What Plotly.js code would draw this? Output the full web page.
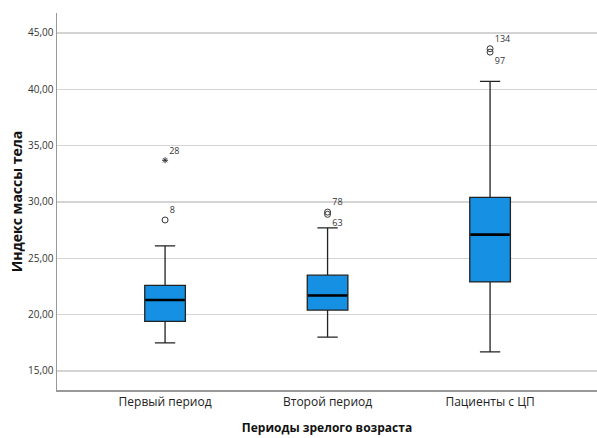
<!DOCTYPE html>
<html>
<head>
<meta charset="utf-8">
<script src="https://cdn.plot.ly/plotly-3.0.1.min.js"></script>
<style>html,body{margin:0;padding:0;background:#fff;}#chart{width:597px;height:438px;}</style>
</head>
<body>
<div id="chart"></div>
<script>
var categories = ["Первый период", "Второй период", "Пациенты с ЦП"];
var lowerWhisker = [17.5, 18.0, 16.7];
var q1 = [19.4, 20.4, 22.9];
var median = [21.3, 21.7, 27.1];
var q3 = [22.6, 23.5, 30.4];
var upperWhisker = [26.1, 27.7, 40.7];

var outlierCat = ["Первый период", "Второй период", "Второй период", "Пациенты с ЦП", "Пациенты с ЦП"];
var outlierVal = [28.4, 29.1, 28.9, 43.6, 43.3];
var outlierLabel = ["8", "78", "63", "134", "97"];
var outlierLabelPos = ["top right", "top right", "bottom right", "top right", "bottom right"];

var extremeCat = ["Первый период"];
var extremeVal = [33.7];
var extremeLabel = ["28"];

var FONT = "Open Sans, Liberation Sans, Arial, sans-serif";

var traces = [
  {
    type: "box",
    x: categories,
    q1: q1, median: median, q3: q3,
    lowerfence: lowerWhisker, upperfence: upperWhisker,
    boxpoints: false,
    width: 0.25,
    whiskerwidth: 0.5,
    fillcolor: "#1590e3",
    line: {color: "#222222", width: 1.3},
    hoverinfo: "skip",
    showlegend: false
  },
  {
    type: "scatter",
    mode: "markers",
    x: categories,
    y: median,
    marker: {symbol: "line-ew", size: 28, line: {color: "#000000", width: 2.6}},
    hoverinfo: "skip",
    showlegend: false
  },
  {
    type: "scatter",
    mode: "markers+text",
    x: outlierCat,
    y: outlierVal,
    text: outlierLabel,
    textposition: outlierLabelPos,
    textfont: {family: FONT, size: 9, color: "#333333"},
    marker: {symbol: "circle-open", size: 6, color: "#333333", line: {width: 1}},
    hoverinfo: "skip",
    showlegend: false
  },
  {
    type: "scatter",
    mode: "markers+text",
    x: extremeCat,
    y: extremeVal,
    text: extremeLabel,
    textposition: "top right",
    textfont: {family: FONT, size: 9, color: "#333333"},
    marker: {symbol: "asterisk-open", size: 5, color: "#333333", line: {width: 1, color: "#333333"}},
    hoverinfo: "skip",
    showlegend: false
  }
];

var layout = {
  width: 597, height: 438,
  margin: {l: 57, r: 0, t: 13, b: 48},
  paper_bgcolor: "#ffffff",
  plot_bgcolor: "#ffffff",
  separators: ",.",
  font: {family: FONT, color: "#222222"},
  xaxis: {
    type: "category",
    range: [-0.665, 2.658],
    showgrid: false,
    showline: true,
    linecolor: "#999999",
    linewidth: 1.5,
    ticks: "",
    tickfont: {family: FONT, size: 12, color: "#222222"},
    title: {text: "<b>Периоды зрелого возраста</b>", font: {family: FONT, size: 12, color: "#111111"}, standoff: 14}
  },
  yaxis: {
    range: [13.31, 46.77],
    tick0: 15, dtick: 5,
    tickformat: ".2f",
    showgrid: true,
    gridcolor: "#d4d4d4",
    gridwidth: 1.5,
    zeroline: false,
    showline: true,
    linecolor: "#999999",
    linewidth: 1.5,
    ticks: "",
    tickfont: {family: FONT, size: 10, color: "#333333"},
    title: {text: "<b>Индекс массы тела</b>", font: {family: FONT, size: 14, color: "#111111"}, standoff: 2}
  }
};

Plotly.newPlot("chart", traces, layout, {displayModeBar: false, staticPlot: true});
</script>
</body>
</html>
